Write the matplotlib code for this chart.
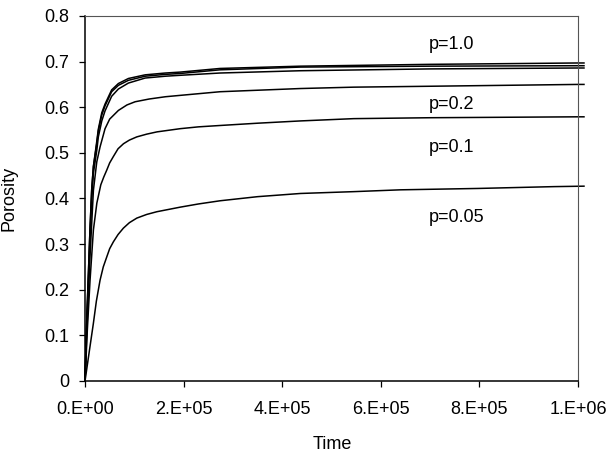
import matplotlib
matplotlib.use('Agg')
import matplotlib.pyplot as plt
from matplotlib.ticker import FuncFormatter

plt.rcParams['font.family'] = ['Liberation Sans', 'DejaVu Sans']

# porosity vs time, one curve per p value
t_top = [0, 3000, 6700, 10000, 13600, 17000, 23800, 27000, 34000, 40600, 54000,
         67700, 88000, 122000, 163000, 193000, 274000, 437000, 700000, 1000000, 1012000]
por_p10 = [0, 0.12, 0.23, 0.33, 0.42, 0.47, 0.525, 0.552, 0.588, 0.607, 0.638,
           0.652, 0.663, 0.671, 0.675, 0.677, 0.685, 0.690, 0.694, 0.697, 0.697]
por_p05 = [0, 0.12, 0.23, 0.33, 0.42, 0.47, 0.52, 0.548, 0.583, 0.603, 0.634,
           0.648, 0.659, 0.668, 0.672, 0.674, 0.682, 0.688, 0.690, 0.691, 0.691]
por_p03 = [0, 0.11, 0.21, 0.31, 0.40, 0.455, 0.505, 0.535, 0.570, 0.592, 0.624,
           0.640, 0.653, 0.664, 0.668, 0.670, 0.675, 0.680, 0.684, 0.686, 0.686]

t_p02 = [0, 3000, 6700, 10000, 17000, 23800, 30500, 40600, 50000, 67700, 85000,
         101600, 130000, 163000, 193000, 274000, 437000, 545000, 700000, 850000,
         1000000, 1012000]
por_p02 = [0, 0.09, 0.19, 0.27, 0.418, 0.48, 0.513, 0.553, 0.574, 0.593, 0.605,
           0.612, 0.618, 0.623, 0.626, 0.634, 0.641, 0.644, 0.646, 0.648,
           0.650, 0.650]

t_p01 = [0, 4700, 10200, 17000, 24000, 32000, 38000, 44000, 50000, 57500, 67000,
         78000, 90000, 105000, 125000, 146000, 193000, 230000, 274000, 350000,
         437000, 545000, 700000, 1000000, 1012000]
por_p01 = [0, 0.112, 0.221, 0.331, 0.39, 0.43, 0.447, 0.462, 0.478, 0.492, 0.509,
           0.520, 0.528, 0.535, 0.541, 0.546, 0.553, 0.557, 0.560, 0.565,
           0.570, 0.575, 0.577, 0.579, 0.579]

t_p005 = [0, 8000, 16900, 23000, 30500, 37000, 44100, 50000, 57500, 67000, 77800,
          90000, 105000, 125000, 145700, 193000, 230000, 274000, 350000, 437000,
          545000, 640000, 797000, 951000, 1012000]
por_p005 = [0, 0.06, 0.126, 0.175, 0.221, 0.25, 0.272, 0.29, 0.305, 0.321, 0.335,
            0.347, 0.357, 0.365, 0.371, 0.381, 0.388, 0.395, 0.404, 0.411,
            0.415, 0.419, 0.422, 0.426, 0.427]

labels = ['p=1.0', 'p=0.2', 'p=0.1', 'p=0.05']
label_x = [697000, 697000, 697000, 697000]
label_y = [0.738, 0.606, 0.512, 0.359]

fig = plt.figure(figsize=(6.13, 4.54), dpi=100)
ax = fig.add_axes([0.1387, 0.1608, 0.8043, 0.804])

curves = [(t_top, por_p10), (t_top, por_p05), (t_top, por_p03),
          (t_p02, por_p02), (t_p01, por_p01), (t_p005, por_p005)]
for t, y in curves:
    ax.plot(t, y, color='black', lw=1.1, clip_on=False)

for s, x, y in zip(labels, label_x, label_y):
    ax.text(x, y, s, fontsize=13, ha='left', va='center')


def sci_label(v, pos):
    if v == 0:
        return '0.E+00'
    e = len(str(int(v))) - 1
    return '%d.E+%02d' % (round(v / 10 ** e), e)


ax.set_xlim(0, 1000000)
ax.set_ylim(0, 0.8)
ax.set_xticks([0, 200000, 400000, 600000, 800000, 1000000])
ax.set_yticks([0, 0.1, 0.2, 0.3, 0.4, 0.5, 0.6, 0.7, 0.8])
ax.xaxis.set_major_formatter(FuncFormatter(sci_label))
ax.yaxis.set_major_formatter(FuncFormatter(lambda v, p: '0' if v == 0 else '%.1f' % v))
ax.tick_params(axis='both', direction='out', length=4.5, width=0.9, labelsize=13)
ax.tick_params(axis='y', pad=7)
ax.tick_params(axis='x', pad=10)

for side in ['left', 'bottom']:
    ax.spines[side].set_linewidth(1.1)
for side in ['top', 'right']:
    ax.spines[side].set_color('#555555')
    ax.spines[side].set_linewidth(0.8)

ax.set_ylabel('Porosity', fontsize=13)
ax.set_xlabel('Time', fontsize=13)
ax.yaxis.set_label_coords(-0.136, 0.5)
ax.xaxis.set_label_coords(0.501, -0.15)

fig.savefig('out.png', dpi=100)
